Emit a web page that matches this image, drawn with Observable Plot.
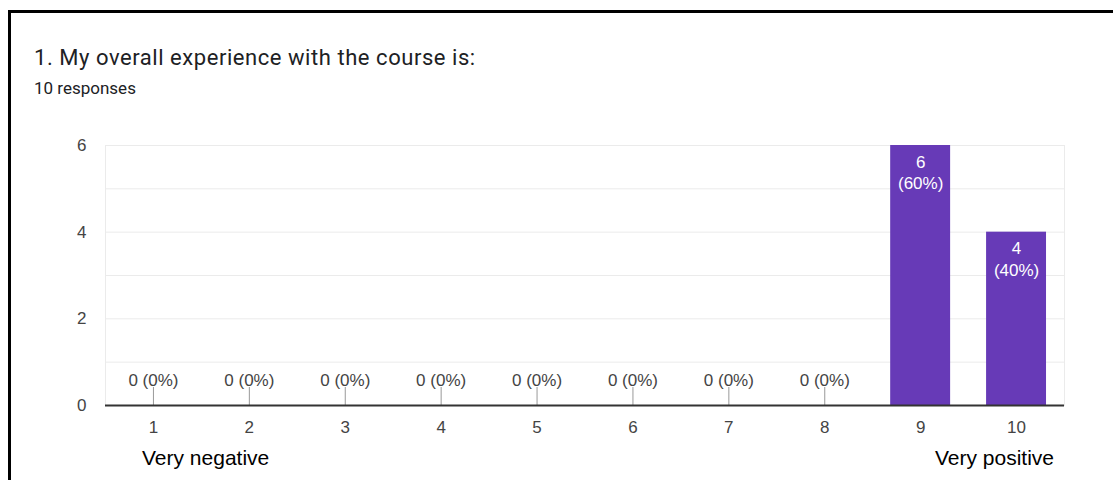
<!DOCTYPE html>
<html>
<head>
<meta charset="utf-8">
<script src="https://cdn.jsdelivr.net/npm/d3@7"></script>
<script src="https://cdn.jsdelivr.net/npm/@observablehq/plot@0.6"></script>
<style>
  html, body { margin: 0; padding: 0; background: #fff; }
  body { width: 1113px; height: 480px; position: relative; overflow: hidden; }
  .card {
    position: absolute; left: 8px; top: 10px; width: 1120px; height: 500px;
    border: 3px solid #000; box-sizing: border-box;
  }
  .title {
    position: absolute; left: 34px; top: 45px; margin: 0;
    font: 400 22px Roboto, "Liberation Sans", sans-serif; letter-spacing: 0.55px;
    color: #202124; white-space: nowrap;
  }
  .subtitle {
    position: absolute; left: 34px; top: 78px; margin: 0;
    font: 400 17px Roboto, "Liberation Sans", sans-serif; color: #202124;
    white-space: nowrap;
  }
  .end-label {
    position: absolute; top: 446px; margin: 0;
    font: 400 21px "Liberation Sans", Arial, sans-serif; color: #000;
    white-space: nowrap;
  }
  #chart { position: absolute; left: 0; top: 0; }
</style>
</head>
<body>
<div class="card"></div>
<div class="title">1. My overall experience with the course is:</div>
<div class="subtitle">10 responses</div>
<div id="chart"></div>
<div class="end-label" style="left:142px">Very negative</div>
<div class="end-label" style="right:59px">Very positive</div>
<script>
// Rating scale and number of responses per rating
const ratings = [1, 2, 3, 4, 5, 6, 7, 8, 9, 10];
const counts = [0, 0, 0, 0, 0, 0, 0, 0, 6, 4];
const yTicks = [0, 2, 4, 6];
const gridValues = [0, 1, 2, 3, 4, 5, 6];
const totalResponses = 10;

const rows = ratings.map((r, i) => ({
  rating: r,
  count: counts[i],
  share: Math.round((counts[i] / totalResponses) * 100)
}));
const emptyRows = rows.filter(d => d.count === 0);
const filledRows = rows.filter(d => d.count > 0);

const chart = Plot.plot({
  width: 1113,
  height: 480,
  marginLeft: 105,
  marginRight: 49,
  marginTop: 145,
  marginBottom: 75,
  style: {
    fontFamily: '"Liberation Sans", Arial, sans-serif',
    fontSize: "17px",
    color: "#444",
    background: "transparent",
    overflow: "visible"
  },
  x: { type: "band", domain: ratings, paddingInner: 0.375, paddingOuter: 0.1875, round: false },
  y: { domain: [0, 6] },
  marks: [
    Plot.ruleY(gridValues, { stroke: "#ebebeb" }),
    Plot.frame({ stroke: "#ebebeb" }),
    Plot.barY(rows, { x: "rating", y: "count", fill: "#673ab7" }),
    Plot.ruleX(emptyRows, { x: "rating", y: "count", stroke: "#999", insetTop: -18 }),
    Plot.ruleY([0], { stroke: "#333", strokeWidth: 2 }),
    Plot.axisX({ tickSize: 0, tickPadding: 15, fontSize: 17, label: null }),
    Plot.axisY({ ticks: yTicks, tickFormat: "d", tickSize: 0, tickPadding: 19, fontSize: 17, label: null }),
    Plot.text(emptyRows, {
      x: "rating", y: "count", dy: -25,
      text: d => `${d.count} (${d.share}%)`,
      fill: "#444", fontSize: 17
    }),
    Plot.text(filledRows, {
      x: "rating", y: "count", dy: 7, lineAnchor: "top", lineHeight: 1.26,
      text: d => `${d.count}\n(${d.share}%)`,
      fill: "#fff", fontSize: 17
    })
  ]
});
document.getElementById("chart").append(chart);
</script>
</body>
</html>
